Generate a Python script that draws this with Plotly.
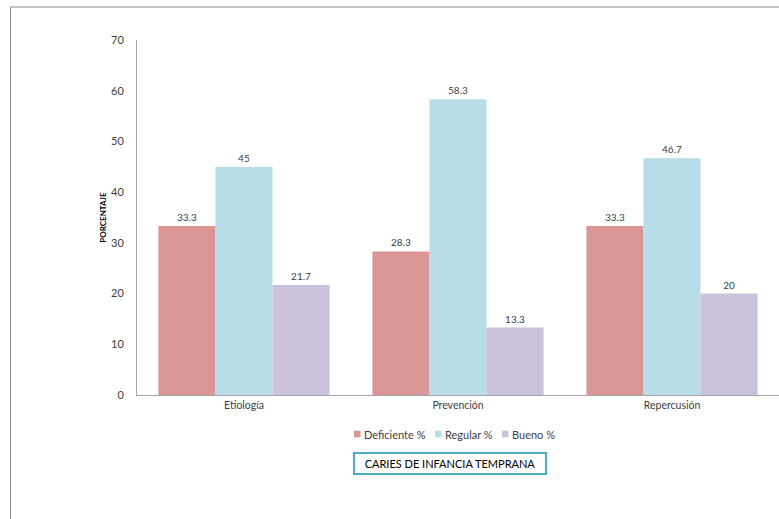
import plotly.graph_objects as go

categories = ["Etiología", "Prevención", "Repercusión"]
deficiente = [33.3, 28.3, 33.3]
regular = [45, 58.3, 46.7]
bueno = [21.7, 13.3, 20]
series_names = ["Deficiente %", "Regular %", "Bueno %"]
colors = ["#D99694", "#B7DEE8", "#CCC1DA"]
y_ticks = [0, 10, 20, 30, 40, 50, 60, 70]

FONT = "Lato, 'Open Sans', sans-serif"

fig = go.Figure()
for name, vals, col in zip(series_names, [deficiente, regular, bueno], colors):
    fig.add_trace(go.Bar(
        x=categories, y=vals, name=name,
        marker=dict(color=col, line=dict(width=0)),
        text=[f"{v:g}" for v in vals], textposition="outside",
        textfont=dict(size=10, color="#404040", family=FONT),
        cliponaxis=False,
    ))

L, T, B = 137, 40, 124
W, H = 779, 519
pw, ph = W - L, H - T - B

def px(x):
    return (x - L) / pw

def py(y):
    return (H - B - y) / ph

# manual legend (positions in pixels of the page)
legend_marker_x = [354, 435, 502]
legend_y = 434
shapes = [
    dict(type="line", xref="paper", yref="paper", x0=px(10.5), x1=px(10.5), y0=py(7), y1=py(519),
         line=dict(color="#8C8C8C", width=1)),
    dict(type="line", xref="paper", yref="paper", x0=px(10.5), x1=px(779), y0=py(7), y1=py(7),
         line=dict(color="#8C8C8C", width=1)),
]
annotations = []
for name, col, mx in zip(series_names, colors, legend_marker_x):
    shapes.append(dict(type="rect", xref="paper", yref="paper",
                       x0=px(mx), x1=px(mx + 6.5), y0=py(legend_y - 3.25), y1=py(legend_y + 3.25),
                       fillcolor=col, line=dict(width=0)))
    annotations.append(dict(text=name, xref="paper", yref="paper", x=px(mx + 8), y=py(legend_y),
                            xanchor="left", yanchor="middle", showarrow=False,
                            font=dict(size=11, color="#404040")))

annotations.append(dict(text="CARIES DE INFANCIA TEMPRANA", xref="paper", yref="paper",
                        x=px(450), y=py(463), xanchor="center", yanchor="middle",
                        showarrow=False, font=dict(size=11, color="#000000"), bordercolor="#4BACC6",
                        borderwidth=2, borderpad=3, bgcolor="white", width=184))

fig.update_layout(
    width=W, height=H,
    margin=dict(l=L, r=0, t=T, b=B),
    paper_bgcolor="white", plot_bgcolor="white",
    barmode="group", bargap=0.2, bargroupgap=0,
    font=dict(family=FONT, color="#404040", size=11),
    showlegend=False,
    xaxis=dict(showline=True, linecolor="#A6A6A6", linewidth=1, ticks="", showgrid=False,
               tickfont=dict(size=10.5, color="#404040")),
    yaxis=dict(range=[0, 70], tickvals=y_ticks, showline=True, linecolor="#A6A6A6", linewidth=1,
               ticks="", showgrid=False, zeroline=False, ticklabelstandoff=10,
               tickfont=dict(size=11, color="#404040"),
               title=dict(text="<b>PORCENTAJE</b>", font=dict(size=8, color="#000000"),
                          standoff=3)),
    shapes=shapes,
    annotations=annotations,
)

fig.write_html("out.html")
